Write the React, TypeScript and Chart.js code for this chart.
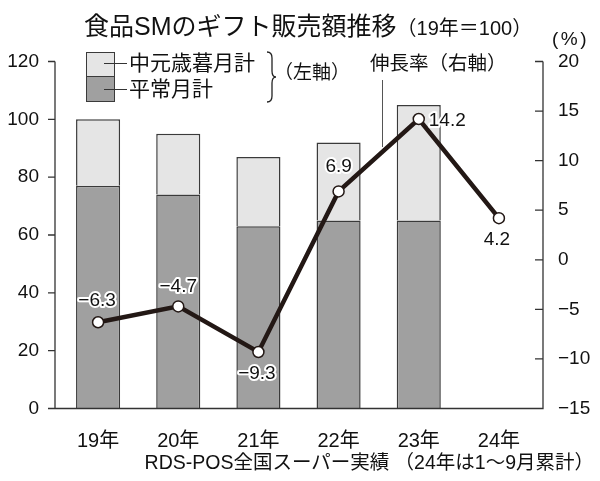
import React, { useEffect, useRef } from "react";
import { Chart, registerables } from "chart.js";

Chart.register(...registerables);

const categories = ["19年", "20年", "21年", "22年", "23年", "24年"];
const regularMonths = [77, 74, 63, 65, 65, null];
const giftMonths = [23, 21, 24, 27, 40, null];
const growthRate = [-6.3, -4.7, -9.3, 6.9, 14.2, 4.2];
const growthLabels = ["−6.3", "−4.7", "−9.3", "6.9", "14.2", "4.2"];

const LATIN = "'Liberation Sans', 'Noto Sans CJK JP', sans-serif";
const INK = "#231815";

const labelOffsets = [
  { dx: -1, dy: -21, align: "center" },
  { dx: 0, dy: -20, align: "center" },
  { dx: -1.5, dy: 22, align: "center" },
  { dx: 0, dy: -25, align: "center" },
  { dx: 10, dy: 2, align: "left" },
  { dx: -2, dy: 22, align: "center" },
];

const fmtMinus = (v: number) => (v < 0 ? "−" + Math.abs(v) : String(v));

const decorPlugin = {
  id: "decor",
  afterDatasetsDraw(chart: any) {
    const { ctx, chartArea: a, scales } = chart;
    const yL = scales.y;
    const yR = scales.y1;
    const xl = a.left - 3;
    const xr = a.right + 4;
    ctx.save();
    ctx.strokeStyle = "#333";
    ctx.lineWidth = 1.3;
    ctx.beginPath();
    ctx.moveTo(xl, yL.top);
    ctx.lineTo(xl, yL.bottom);
    ctx.lineTo(xr, yL.bottom);
    ctx.lineTo(xr, yR.top);
    yL.ticks.forEach((t: any) => {
      const y = yL.getPixelForValue(t.value);
      ctx.moveTo(xl - 7, y);
      ctx.lineTo(xl, y);
    });
    yR.ticks.forEach((t: any) => {
      const y = yR.getPixelForValue(t.value);
      ctx.moveTo(xr - 8, y);
      ctx.lineTo(xr, y);
    });
    ctx.stroke();

    // data labels for growth line
    const meta = chart.getDatasetMeta(2);
    ctx.font = "19px " + LATIN;
    ctx.textBaseline = "middle";
    ctx.lineJoin = "round";
    meta.data.forEach((pt: any, i: number) => {
      const o = labelOffsets[i];
      const x = pt.x + o.dx;
      const y = pt.y + o.dy;
      ctx.textAlign = o.align;
      ctx.strokeStyle = "#fff";
      ctx.lineWidth = 4;
      ctx.strokeText(growthLabels[i], x, y);
      ctx.fillStyle = "#111";
      ctx.fillText(growthLabels[i], x, y);
    });
    ctx.restore();
  },
};

function ChartCanvas() {
  const ref = useRef<HTMLCanvasElement | null>(null);
  useEffect(() => {
    if (!ref.current) return;
    const chart = new Chart(ref.current, {
      type: "bar",
      data: {
        labels: categories,
        datasets: [
          {
            type: "bar",
            label: "平常月計",
            data: regularMonths,
            backgroundColor: "#a0a0a0",
            borderColor: "#3a3a3a",
            borderWidth: 1.5,
            yAxisID: "y",
            stack: "s",
            order: 2,
            barPercentage: 0.55,
            categoryPercentage: 1,
          },
          {
            type: "bar",
            label: "中元歳暮月計",
            data: giftMonths,
            backgroundColor: "#e5e5e5",
            borderColor: "#3a3a3a",
            borderWidth: 1.5,
            yAxisID: "y",
            stack: "s",
            order: 2,
            barPercentage: 0.55,
            categoryPercentage: 1,
          },
          {
            type: "line",
            label: "伸長率",
            data: growthRate,
            yAxisID: "y1",
            borderColor: INK,
            borderWidth: 4.5,
            pointRadius: 5.5,
            pointBackgroundColor: "#fff",
            pointBorderColor: INK,
            pointBorderWidth: 1.5,
            tension: 0,
            order: 0,
          },
        ],
      } as any,
      options: {
        animation: false,
        responsive: true,
        maintainAspectRatio: false,
        layout: { padding: { top: 61.5, left: 0, right: 0, bottom: 0 } },
        plugins: {
          legend: { display: false },
          title: { display: false },
          tooltip: { enabled: false },
        },
        scales: {
          x: {
            stacked: true,
            grid: { display: false },
            border: { display: false },
            ticks: { color: "#111", font: { family: LATIN, size: 20 }, padding: 13 },
            afterFit: (s: any) => {
              s.height = 72.5;
            },
          },
          y: {
            position: "left",
            stacked: true,
            min: 0,
            max: 120,
            ticks: { stepSize: 20, color: "#111", font: { family: LATIN, size: 19 }, padding: 11 },
            grid: { display: false },
            border: { display: false },
            afterFit: (s: any) => {
              s.width = 58;
            },
          },
          y1: {
            position: "right",
            stacked: false,
            min: -15,
            max: 20,
            ticks: {
              stepSize: 5,
              color: "#111",
              font: { family: LATIN, size: 19 },
              padding: 11,
              callback: (v: any) => fmtMinus(Number(v)),
            },
            grid: { display: false },
            border: { display: false },
            afterFit: (s: any) => {
              s.width = 61;
            },
          },
        },
      } as any,
      plugins: [decorPlugin],
    });
    return () => chart.destroy();
  }, []);
  return <canvas ref={ref} />;
}

const abs = (o: React.CSSProperties): React.CSSProperties => ({
  position: "absolute",
  whiteSpace: "nowrap",
  fontFamily: LATIN,
  color: "#111",
  ...o,
});

export default function App() {
  return (
    <div style={{ position: "fixed", left: 0, top: 0, width: 600, height: 481, background: "#fff", overflow: "hidden" }}>
      <div style={{ position: "absolute", left: 0, top: 0, width: 600, height: 481 }}>
        <ChartCanvas />
      </div>
      <div style={abs({ left: 84, top: 11, fontSize: 25, lineHeight: "30px" })}>
        食品SMのギフト販売額推移<span style={{ fontSize: 20 }}>（19年＝100）</span>
      </div>
      <div style={abs({ left: 552, top: 28, fontSize: 19, lineHeight: "22px", letterSpacing: 2.5 })}>(%)</div>

      {/* legend */}
      <div style={abs({ left: 86, top: 52, width: 29, height: 25, background: "#e5e5e5", border: "1.5px solid #3a3a3a", boxSizing: "border-box" })} />
      <div style={abs({ left: 86, top: 76, width: 29, height: 26, background: "#a0a0a0", border: "1.5px solid #3a3a3a", boxSizing: "border-box" })} />
      <div style={abs({ left: 104, top: 63, width: 23, height: 1, background: "#333" })} />
      <div style={abs({ left: 104, top: 89, width: 23, height: 1, background: "#333" })} />
      <div style={abs({ left: 129, top: 50, fontSize: 21, lineHeight: "26px" })}>中元歳暮月計</div>
      <div style={abs({ left: 129, top: 76, fontSize: 21, lineHeight: "26px" })}>平常月計</div>
      <svg style={{ position: "absolute", left: 265, top: 50 }} width={12} height={54}>
        <path d="M2 2 Q7 2 7 8 L7 21 Q7 27 11 27 Q7 27 7 33 L7 46 Q7 52 2 52" fill="none" stroke="#222" strokeWidth={1.3} />
      </svg>
      <div style={abs({ left: 274, top: 60, fontSize: 19, lineHeight: "26px" })}>（左軸）</div>
      <div style={abs({ left: 370, top: 50, fontSize: 19.5, lineHeight: "26px" })}>伸長率（右軸）</div>
      <div style={abs({ left: 382, top: 80, width: 1.2, height: 67, background: "#555" })} />

      <div style={abs({ right: 6, top: 449, fontSize: 19.5, lineHeight: "26px" })}>
        RDS-POS全国スーパー実績 （24年は1～9月累計）
      </div>
    </div>
  );
}
